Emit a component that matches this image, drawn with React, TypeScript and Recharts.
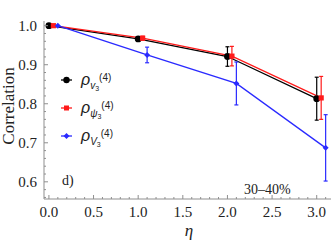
import { LineChart, Line, XAxis, YAxis, ErrorBar } from 'recharts';

const FRAME = '#8f8f8f';
const TEXT = '#222';
const SERIF = '"Liberation Serif", "DejaVu Serif", serif';
const SANS = '"Liberation Sans", "DejaVu Sans", sans-serif';

const BLACK = '#000000';
const RED = '#ff1a1a';
const BLUE = '#2a2aff';

// rho_v3(4)
const etaV = [0, 1, 2, 3];
const corrV = [1.0, 0.966, 0.921, 0.813];
const errV = [0, 0.006, 0.025, 0.055];

// rho_psi3(4)
const etaPsi = [0.05, 1.05, 2.05, 3.05];
const corrPsi = [1.0, 0.968, 0.922, 0.815];
const errPsi = [0, 0.005, 0.025, 0.055];

// rho_V3(4)
const etaBig = [0.1, 1.1, 2.1, 3.1];
const corrBig = [1.0, 0.925, 0.852, 0.687];
const errBig = [0, 0.02, 0.055, 0.085];

const xMajor = [0, 0.5, 1, 1.5, 2, 2.5, 3];
const yMajor = [0.6, 0.7, 0.8, 0.9, 1.0];

// minor ticks every 0.1 on x, 0.02 on y (labels only on the majors)
const xTicks: number[] = [];
for (let i = 0; i <= 31; i++) xTicks.push(i / 10);
const yTicks: number[] = [];
for (let i = 28; i <= 50; i++) yTicks.push(i / 50);

const rows = (eta: number[], corr: number[], err: number[]) =>
  eta.map((x, i) => ({ x, y: corr[i], err: err[i] }));

const isOn = (list: number[], v: number) => list.some((m) => Math.abs(m - v) < 1e-6);

function BottomTick({ x, y, payload }: any) {
  const major = isOn(xMajor, payload.value);
  return (
    <g>
      <line x1={x} x2={x} y1={y} y2={y - (major ? 4 : 2)} stroke={FRAME} />
      {major && (
        <text x={x} y={y + 18} textAnchor="middle" fontSize={15} fontFamily={SERIF} fill={TEXT}>
          {payload.value.toFixed(1)}
        </text>
      )}
    </g>
  );
}

function TopTick({ x, y, payload }: any) {
  const major = isOn(xMajor, payload.value);
  return <line x1={x} x2={x} y1={y} y2={y + (major ? 4 : 2)} stroke={FRAME} />;
}

function LeftTick({ x, y, payload }: any) {
  const major = isOn(yMajor, payload.value);
  return (
    <g>
      <line x1={x} x2={x + (major ? 4 : 2)} y1={y} y2={y} stroke={FRAME} />
      {major && (
        <text x={x - 7} y={y + 5} textAnchor="end" fontSize={15} fontFamily={SERIF} fill={TEXT}>
          {payload.value.toFixed(1)}
        </text>
      )}
    </g>
  );
}

function RightTick({ x, y, payload }: any) {
  const major = isOn(yMajor, payload.value);
  return <line x1={x} x2={x - (major ? 4 : 2)} y1={y} y2={y} stroke={FRAME} />;
}

const CircleDot = ({ cx, cy }: any) => <circle cx={cx} cy={cy} r={3.4} fill={BLACK} />;
const SquareDot = ({ cx, cy }: any) => <rect x={cx - 2.6} y={cy - 2.6} width={5.2} height={5.2} fill={RED} />;
const DiamondDot = ({ cx, cy }: any) => (
  <polygon points={`${cx},${cy - 3} ${cx + 3},${cy} ${cx},${cy + 3} ${cx - 3},${cy}`} fill={BLUE} />
);

function LegendRow({ y, color, marker, sub }: { y: number; color: string; marker: string; sub: string }) {
  return (
    <g>
      <line x1={61} x2={72} y1={y} y2={y} stroke={color} strokeWidth={1.3} />
      {marker === 'circle' && <circle cx={66.5} cy={y} r={3.2} fill={color} />}
      {marker === 'square' && <rect x={64} y={y - 2.5} width={5} height={5} fill={color} />}
      {marker === 'diamond' && (
        <polygon points={`66.5,${y - 3} 69.5,${y} 66.5,${y + 3} 63.5,${y}`} fill={color} />
      )}
      <text x={81} y={y + 5} fontFamily={SANS} fill={TEXT}>
        <tspan fontSize={16} fontStyle="italic">ρ</tspan>
        <tspan fontSize={10} fontStyle="italic" dy={4}>{sub}</tspan>
        <tspan fontSize={7} dy={1.5}>3</tspan>
        <tspan fontSize={10} dy={-10}>(4)</tspan>
      </text>
    </g>
  );
}

export default function App() {
  return (
    <div style={{ position: 'absolute', left: 0, top: 0, width: 334, height: 242, background: '#fff' }}>
      <LineChart width={334} height={242} margin={{ top: 21, right: 3, bottom: 0, left: 0 }}>
        <XAxis
          xAxisId={0}
          type="number"
          dataKey="x"
          domain={[-0.055, 3.16]}
          ticks={xTicks}
          interval={0}
          allowDataOverflow
          height={43}
          tickSize={0}
          tickMargin={0}
          tickLine={false}
          axisLine={{ stroke: FRAME }}
          tick={BottomTick}
        />
        <XAxis
          xAxisId="top"
          orientation="top"
          type="number"
          dataKey="x"
          domain={[-0.055, 3.16]}
          ticks={xTicks}
          interval={0}
          allowDataOverflow
          height={0}
          tickSize={0}
          tickMargin={0}
          tickLine={false}
          axisLine={{ stroke: FRAME }}
          tick={TopTick}
        />
        <YAxis
          yAxisId={0}
          type="number"
          domain={[0.556, 1.012]}
          ticks={yTicks}
          interval={0}
          allowDataOverflow
          width={44}
          tickSize={0}
          tickMargin={0}
          tickLine={false}
          axisLine={{ stroke: FRAME }}
          tick={LeftTick}
        />
        <YAxis
          yAxisId="right"
          orientation="right"
          type="number"
          domain={[0.556, 1.012]}
          ticks={yTicks}
          interval={0}
          allowDataOverflow
          width={0}
          tickSize={0}
          tickMargin={0}
          tickLine={false}
          axisLine={{ stroke: FRAME }}
          tick={RightTick}
        />
        <Line
          data={rows(etaV, corrV, errV)}
          dataKey="y"
          stroke={BLACK}
          strokeWidth={1.3}
          dot={CircleDot}
          activeDot={false}
          isAnimationActive={false}
        >
          <ErrorBar dataKey="err" direction="y" width={2} stroke={BLACK} strokeWidth={1.2} />
        </Line>
        <Line
          data={rows(etaPsi, corrPsi, errPsi)}
          dataKey="y"
          stroke={RED}
          strokeWidth={1.3}
          dot={SquareDot}
          activeDot={false}
          isAnimationActive={false}
        >
          <ErrorBar dataKey="err" direction="y" width={2} stroke={RED} strokeWidth={1.2} />
        </Line>
        <Line
          data={rows(etaBig, corrBig, errBig)}
          dataKey="y"
          stroke={BLUE}
          strokeWidth={1.3}
          dot={DiamondDot}
          activeDot={false}
          isAnimationActive={false}
        >
          <ErrorBar dataKey="err" direction="y" width={2} stroke={BLUE} strokeWidth={1.2} />
        </Line>

        <LegendRow y={80} color={BLACK} marker="circle" sub="v" />
        <LegendRow y={108} color={RED} marker="square" sub="ψ" />
        <LegendRow y={136} color={BLUE} marker="diamond" sub="V" />

        <text x={62} y={185} fontSize={14} fontFamily={SERIF} fill={TEXT}>d)</text>
        <text x={244} y={194} fontSize={14} fontFamily={SERIF} fill={TEXT}>30–40%</text>
        <text
          transform="rotate(-90)"
          x={-106}
          y={14}
          textAnchor="middle"
          fontSize={17}
          fontFamily={SERIF}
          fill={TEXT}
        >
          Correlation
        </text>
        <text x={189} y={236} textAnchor="middle" fontSize={17} fontStyle="italic" fontFamily={SERIF} fill={TEXT}>
          η
        </text>
      </LineChart>
    </div>
  );
}
